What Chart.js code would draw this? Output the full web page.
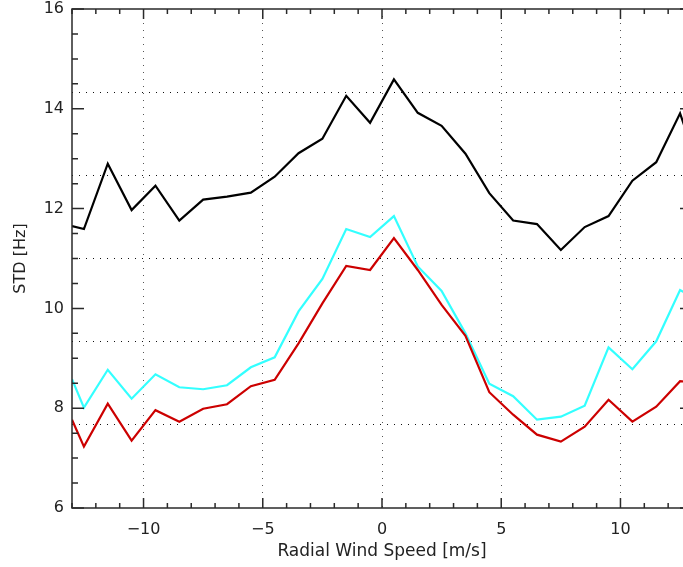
<!DOCTYPE html>
<html>
<head>
<meta charset="utf-8">
<title>STD vs Radial Wind Speed</title>
<script src="https://cdn.jsdelivr.net/npm/chart.js@4.4.1/dist/chart.umd.min.js"></script>
<style>
    html, body { margin: 0; padding: 0; background: #fff; overflow: hidden; }
    #wrap { width: 700px; height: 567px; }
</style>
</head>
<body>
<div id="wrap"><canvas id="stdChart" width="700" height="567"></canvas></div>
<script>
    // Radial wind speed bins [m/s] (edge values at both ends are clipped by the frame)
    const speeds = [-13, -12.5, -11.5, -10.5, -9.5, -8.5, -7.5, -6.5, -5.5, -4.5, -3.5, -2.5, -1.5, -0.5,
        0.5, 1.5, 2.5, 3.5, 4.5, 5.5, 6.5, 7.5, 8.5, 9.5, 10.5, 11.5, 12.5, 13.5];

    // STD [Hz] per bin
    const blackStd = [11.65, 11.59, 12.90, 11.97, 12.46, 11.76, 12.18, 12.24, 12.32, 12.64, 13.11, 13.40, 14.26, 13.72,
        14.59, 13.92, 13.66, 13.10, 12.31, 11.76, 11.69, 11.17, 11.63, 11.85, 12.56, 12.93, 13.91, 12.5];
    const cyanStd = [8.58, 8.01, 8.77, 8.19, 8.68, 8.42, 8.38, 8.46, 8.82, 9.02, 9.94, 10.59, 11.59, 11.43,
        11.85, 10.84, 10.35, 9.50, 8.49, 8.24, 7.77, 7.83, 8.05, 9.22, 8.78, 9.34, 10.37, 10.1];
    const redStd = [7.77, 7.23, 8.09, 7.35, 7.96, 7.73, 7.99, 8.08, 8.44, 8.57, 9.30, 10.10, 10.85, 10.77,
        11.41, 10.77, 10.07, 9.45, 8.32, 7.87, 7.47, 7.33, 7.63, 8.17, 7.73, 8.03, 8.54, 8.5];

    // Axis ticks and the dotted horizontal grid (six equal steps)
    const xTicks = [-10, -5, 0, 5, 10];
    const yTicks = [6, 8, 10, 12, 14, 16];
    const hGrid = [7.6667, 9.3333, 11.0, 12.6667, 14.3333];

    function toPoints(values) {
        return speeds.map(function(s, i) { return { x: s, y: values[i] }; });
    }

    function fixedTicks(list) {
        return function(scale) {
            scale.ticks = list.map(function(v) { return { value: v }; });
        };
    }

    // Frame with inward major/minor tick marks on all four sides
    const frameTicks = {
        id: 'frameTicks',
        afterDatasetsDraw: function(chart) {
            const ctx = chart.ctx;
            const area = chart.chartArea;
            const xs = chart.scales.x;
            const ys = chart.scales.y;
            ctx.save();
            ctx.strokeStyle = '#2a2a2a';
            ctx.lineWidth = 1.5;
            ctx.strokeRect(area.left, area.top, area.right - area.left, area.bottom - area.top);
            ctx.beginPath();
            for (let v = Math.ceil(xs.min); v <= xs.max; v++) {
                const px = xs.getPixelForValue(v);
                const len = v % 5 === 0 ? 10 : 5;
                ctx.moveTo(px, area.bottom); ctx.lineTo(px, area.bottom - len);
                ctx.moveTo(px, area.top); ctx.lineTo(px, area.top + len);
            }
            for (let v = ys.min; v <= ys.max; v += 0.5) {
                const py = ys.getPixelForValue(v);
                const len = v % 2 === 0 ? 12 : 6;
                ctx.moveTo(area.left, py); ctx.lineTo(area.left + len, py);
                ctx.moveTo(area.right, py); ctx.lineTo(area.right - len, py);
            }
            ctx.stroke();
            ctx.restore();
        }
    };

    Chart.defaults.font.family = '"DejaVu Sans", sans-serif';
    Chart.defaults.color = '#222';

    const dotted = {
        color: '#555',
        lineWidth: 1,
        drawTicks: false,
        tickLength: 0,
        borderDash: [1, 6]
    };

    new Chart(document.getElementById('stdChart'), {
        type: 'line',
        data: {
            datasets: [
                { data: toPoints(redStd), borderColor: '#cc0000' },
                { data: toPoints(cyanStd), borderColor: '#33ffff' },
                { data: toPoints(blackStd), borderColor: '#000000' }
            ]
        },
        options: {
            responsive: false,
            animation: false,
            events: [],
            layout: { autoPadding: false, padding: { left: 0, right: 8, top: 9, bottom: 0 } },
            elements: {
                line: { borderWidth: 2.2, tension: 0, fill: false },
                point: { radius: 0 }
            },
            plugins: {
                legend: { display: false },
                tooltip: { enabled: false }
            },
            scales: {
                x: {
                    type: 'linear',
                    min: -13,
                    max: 13,
                    afterBuildTicks: fixedTicks(xTicks),
                    afterFit: function(scale) {
                        scale.height = 59;
                        scale.paddingLeft = 0;
                        scale.paddingRight = 0;
                    },
                    grid: dotted,
                    border: { display: false, dash: [1, 6] },
                    ticks: {
                        padding: 12,
                        font: { size: 16 },
                        callback: function(v) { return String(v).replace('-', '\u2212'); }
                    },
                    title: {
                        display: true,
                        text: 'Radial Wind Speed [m/s]',
                        font: { size: 17 },
                        padding: { top: 0, bottom: 5 }
                    }
                },
                y: {
                    min: 6,
                    max: 16,
                    afterBuildTicks: fixedTicks(yTicks),
                    afterFit: function(scale) {
                        scale.width = 72;
                        scale.paddingTop = 0;
                        scale.paddingBottom = 0;
                    },
                    grid: { display: false, drawTicks: false, tickLength: 0 },
                    border: { display: false },
                    ticks: { padding: 8, font: { size: 16 } },
                    title: {
                        display: true,
                        text: 'STD [Hz]',
                        font: { size: 16 },
                        padding: { top: 11, bottom: 0 }
                    }
                },
                y2: {
                    position: 'right',
                    min: 6,
                    max: 16,
                    afterBuildTicks: fixedTicks(hGrid),
                    afterFit: function(scale) {
                        scale.width = 0;
                        scale.paddingTop = 0;
                        scale.paddingBottom = 0;
                    },
                    grid: Object.assign({}, dotted, { color: '#111' }),
                    border: { display: false, dash: [1, 6] },
                    ticks: { display: false }
                }
            }
        },
        plugins: [frameTicks]
    });
</script>
</body>
</html>
